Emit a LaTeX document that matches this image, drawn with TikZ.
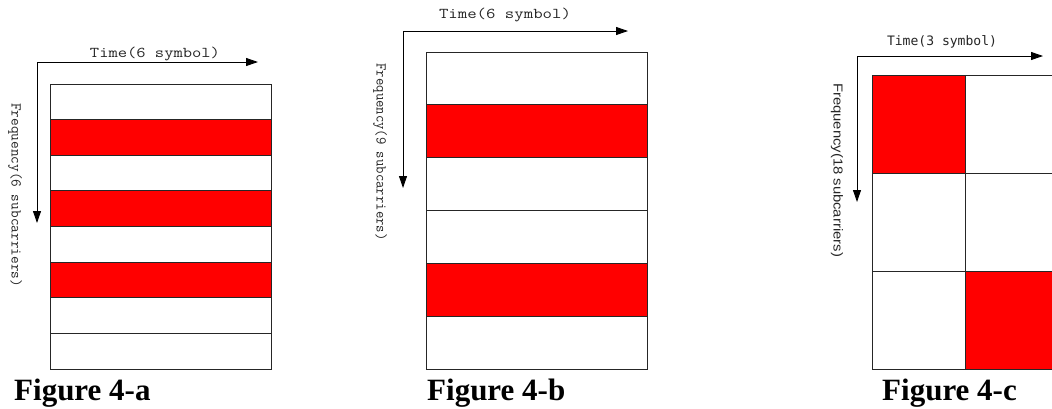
\documentclass[tikz,border=0pt]{standalone}
\usepackage{fontspec}
\usepackage{graphicx}
\setmainfont{Liberation Serif}
\newfontfamily\monosans{DejaVu Sans Mono}
\newfontfamily\plainsans{Liberation Sans}
\usetikzlibrary{arrows.meta}
\tikzset{
  cellbox/.style={draw=black!85, line width=1pt},
  redcell/.style={cellbox, fill=red},
  whitecell/.style={cellbox, fill=white},
  axisarrow/.style={draw=black, line width=0.9pt, -{Triangle[length=12pt,width=8pt]}},
  lbla/.style={inner sep=0pt, text=black!85, font=\ttfamily\fontsize{15}{15}\selectfont},
  lblc/.style={inner sep=0pt, text=black!85, font=\monosans\fontsize{13}{13}\selectfont},
  lblcf/.style={inner sep=0pt, text=black!85, font=\plainsans\fontsize{13}{13}\selectfont},
  figlabel/.style={inner sep=0pt, anchor=base west, font=\bfseries\fontsize{31}{31}\selectfont}
}
\begin{document}
\begin{tikzpicture}[x=1pt,y=-1pt]
\useasboundingbox (0,0) rectangle (1052,408);
\fill[white] (0,0) rectangle (1052,408);

% ---------- Figure 4-a ----------
\foreach \k in {0,...,7}{
  \pgfmathsetmacro{\ya}{84+\k*35.625}
  \pgfmathsetmacro{\yb}{84+(\k+1)*35.625}
  \pgfmathtruncatemacro{\isred}{(\k==1)||(\k==3)||(\k==5)}
  \ifnum\isred=1
    \path[redcell] (50,\ya) rectangle (271,\yb);
  \else
    \path[whitecell] (50,\ya) rectangle (271,\yb);
  \fi
}
\coordinate (ca) at (37,62);
\coordinate (ta) at (258,62);
\coordinate (fa) at (37,223);
\draw[axisarrow] (ca) -- (ta);
\draw[axisarrow] (ca) -- (fa);
\node[lbla] (timea) at (155,54) {\resizebox{130pt}{\height}{Time(6 symbol)}};
\node[lbla, rotate=-90] (freqa) at (15,195) {\resizebox{184pt}{\height}{Frequency(6 subcarriers)}};
\node[figlabel] (figa) at (14,400) {Figure 4-a};

% ---------- Figure 4-b ----------
\foreach \k in {0,...,5}{
  \pgfmathsetmacro{\ya}{52+\k*52.8333}
  \pgfmathsetmacro{\yb}{52+(\k+1)*52.8333}
  \pgfmathtruncatemacro{\isred}{(\k==1)||(\k==4)}
  \ifnum\isred=1
    \path[redcell] (426,\ya) rectangle (647,\yb);
  \else
    \path[whitecell] (426,\ya) rectangle (647,\yb);
  \fi
}
\coordinate (cb) at (403,31);
\coordinate (tb) at (628,31);
\coordinate (fb) at (403,188);
\draw[axisarrow] (cb) -- (tb);
\draw[axisarrow] (cb) -- (fb);
\node[lbla] (timeb) at (505,15) {\resizebox{132pt}{\height}{Time(6 symbol)}};
\node[lbla, rotate=-90] (freqb) at (380,152) {\resizebox{177pt}{\height}{Frequency(9 subcarriers)}};
\node[figlabel] (figb) at (427,400) {Figure 4-b};

% ---------- Figure 4-c ----------
\begin{scope}
\clip (860,0) rectangle (1052,408);
\foreach \r in {0,1,2}{
  \foreach \c in {0,1,2}{
    \pgfmathsetmacro{\xa}{872+\c*93}
    \pgfmathsetmacro{\xb}{872+(\c+1)*93}
    \pgfmathsetmacro{\ya}{75+\r*98}
    \pgfmathsetmacro{\yb}{75+(\r+1)*98}
    \pgfmathtruncatemacro{\isred}{((\r==0)&&(\c==0))||((\r==2)&&(\c==1))}
    \ifnum\isred=1
      \path[redcell] (\xa,\ya) rectangle (\xb,\yb);
    \else
      \path[whitecell] (\xa,\ya) rectangle (\xb,\yb);
    \fi
  }
}
\end{scope}
\coordinate (cc) at (857,56);
\coordinate (tc) at (1043,56);
\coordinate (fc) at (857,202);
\draw[axisarrow] (cc) -- (tc);
\draw[axisarrow] (cc) -- (fc);
\node[lblc] (timec) at (942,42) {\resizebox{110pt}{\height}{Time(3 symbol)}};
\node[lblcf, rotate=-90] (freqc) at (837,170) {\resizebox{174pt}{\height}{Frequency(18 subcarriers)}};
\node[figlabel] (figc) at (882,400) {Figure 4-c};
\end{tikzpicture}
\end{document}
